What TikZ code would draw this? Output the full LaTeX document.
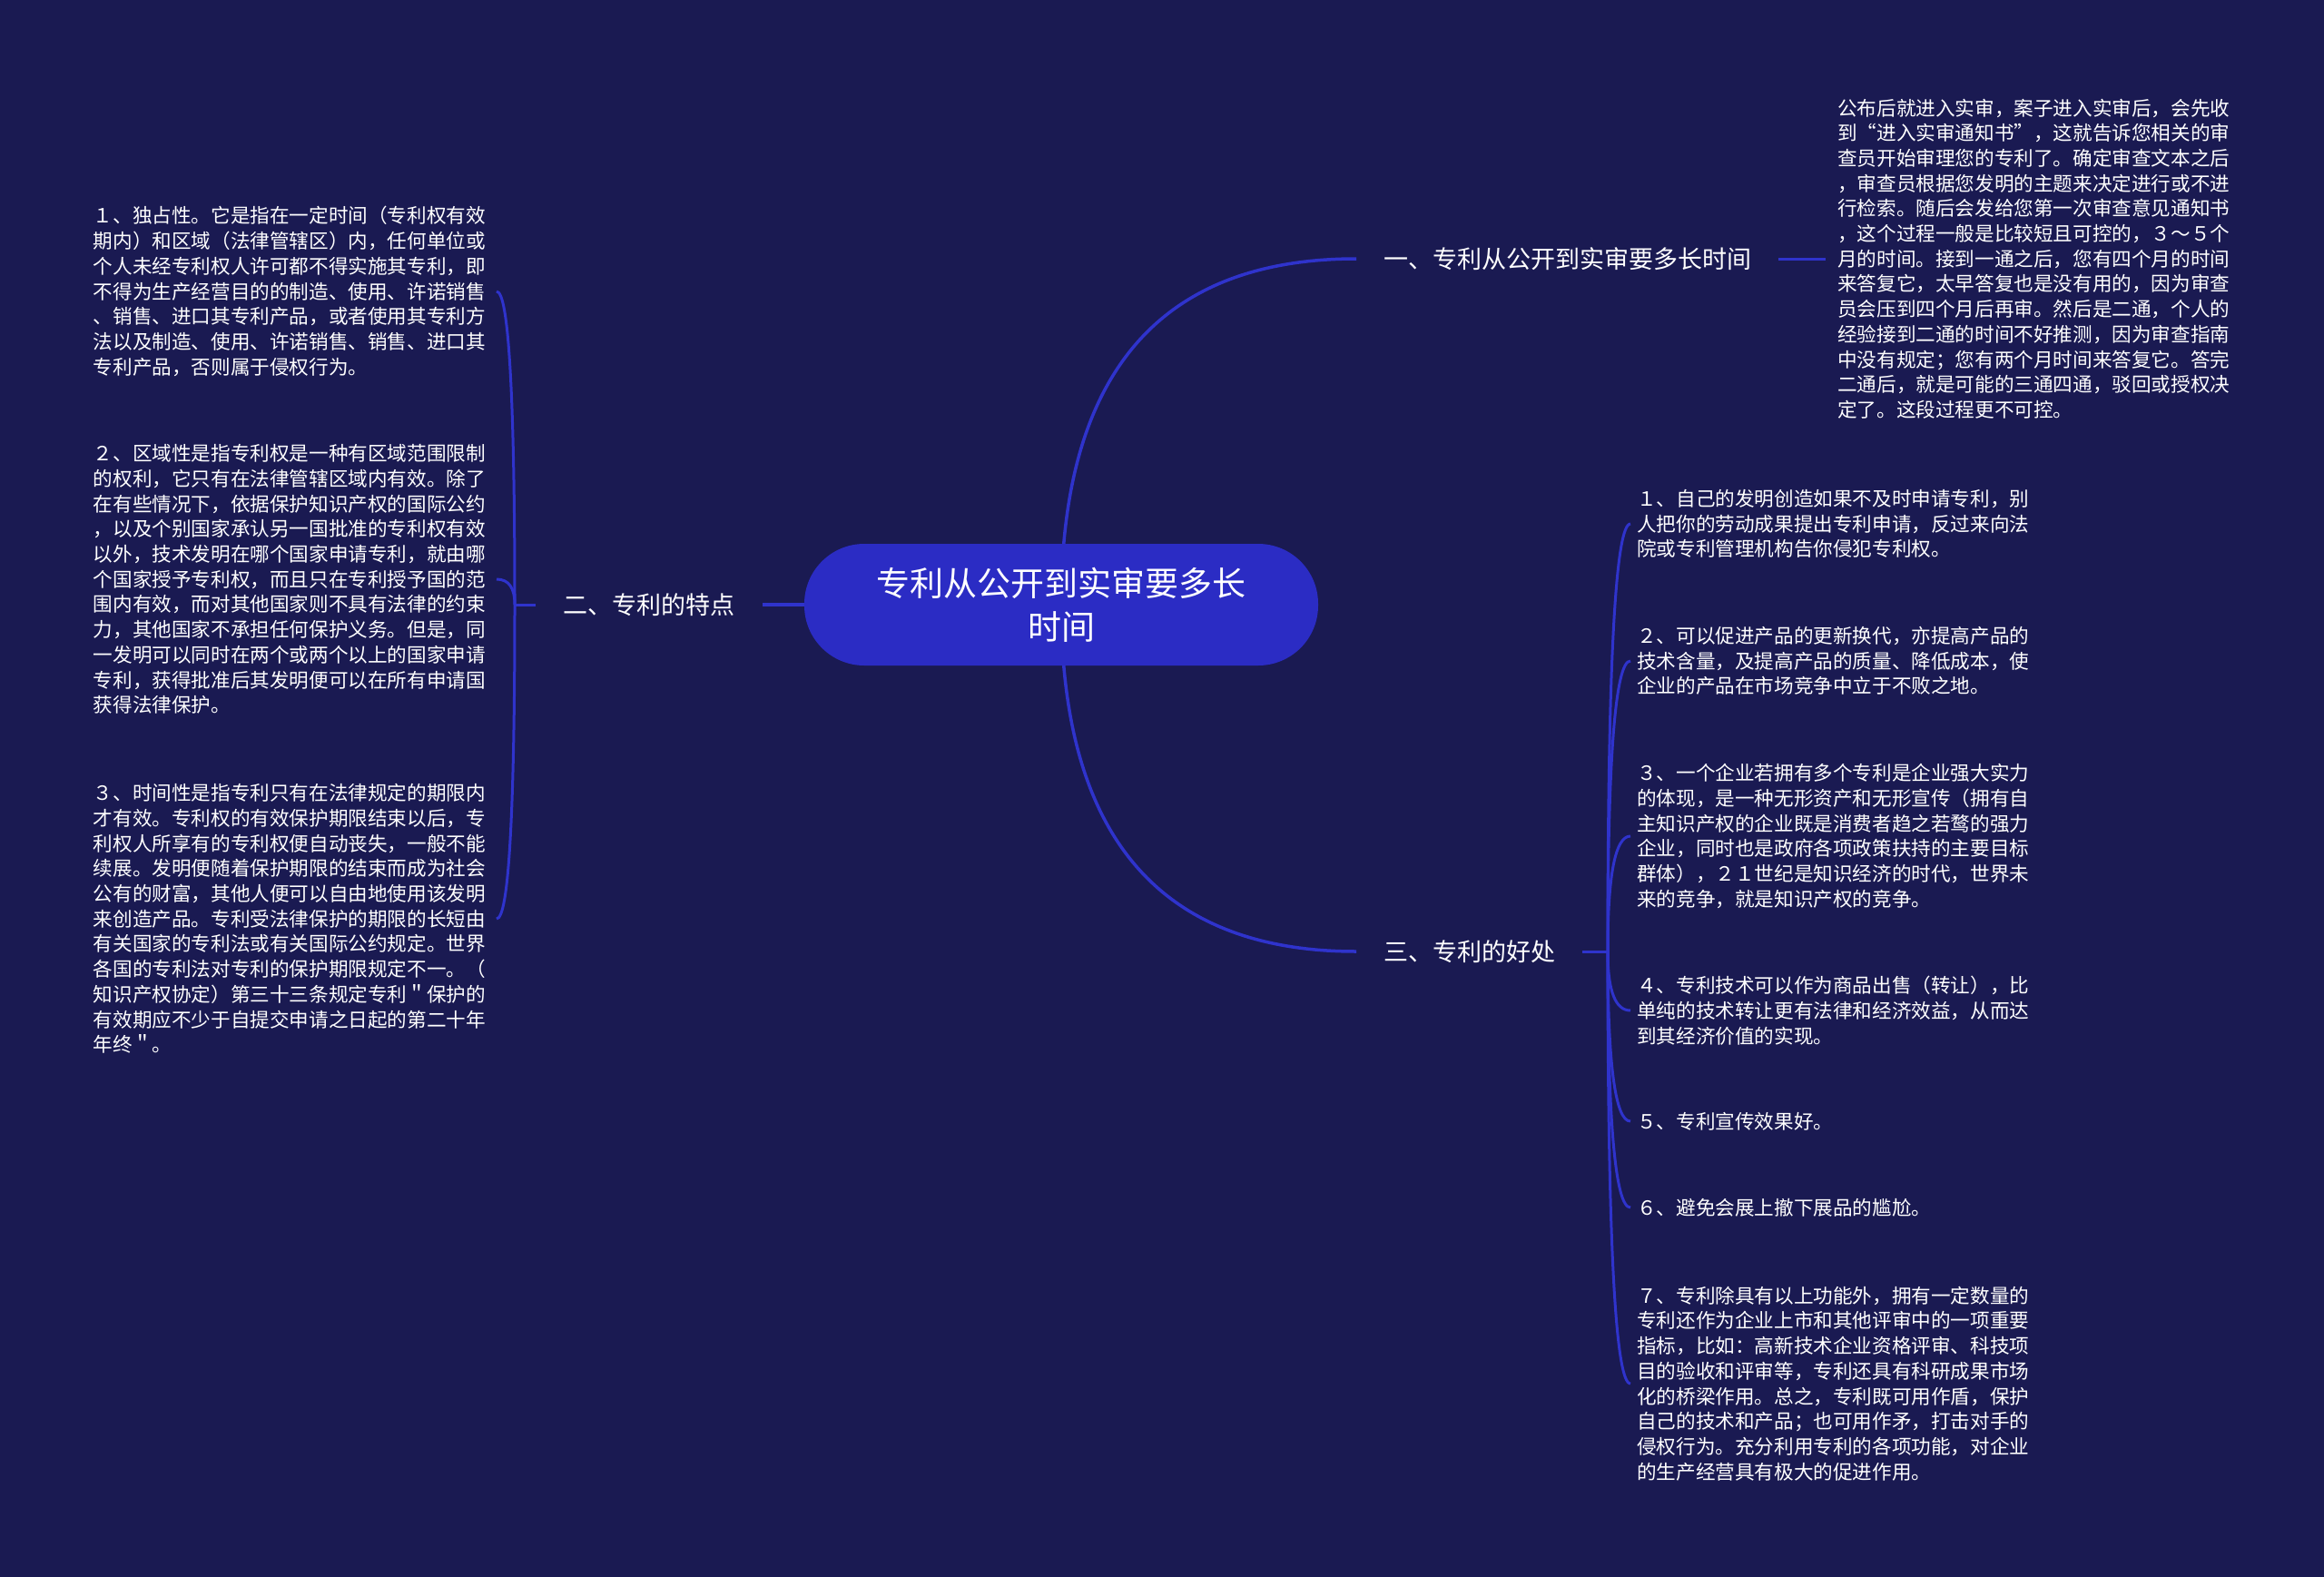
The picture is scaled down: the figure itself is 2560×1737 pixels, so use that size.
\documentclass[tikz,border=0pt]{standalone}
\usepackage{fontspec}
\setmainfont{Noto Sans CJK SC}
\usetikzlibrary{calc}
\definecolor{bgc}{HTML}{1A1A52}
\definecolor{nodec}{HTML}{2B2CC4}
\definecolor{linec}{HTML}{2F33CC}
\pgfdeclarelayer{back}
\pgfdeclarelayer{wires}
\pgfsetlayers{back,wires,main}
\tikzset{
  mainline/.style={draw=linec, line width=3.5pt},
  subline/.style={draw=linec, line width=3pt},
  rootbox/.style={fill=nodec, rounded corners=66pt, minimum width=566pt, minimum height=134pt, text=white, align=center, inner sep=0pt, font=\fontsize{37}{48}\selectfont},
  branchbox/.style={text=white, inner xsep=30pt, inner ysep=8pt, font=\fontsize{27}{34}\selectfont},
  leafbox/.style={text=white, align=left, inner ysep=4pt, font=\fontsize{21.6}{27.7}\selectfont},
}
% quadratic-looking curve from #1 to #2 with its corner at (#1 |- #2)
\newcommand{\qcurve}[3]{%
  \draw[#1] (#2) .. controls ($(#2)!0.667!(#2 |- #3)$) and ($(#3)!0.667!(#2 |- #3)$) .. (#3);}
\begin{document}
\begin{tikzpicture}[x=1pt,y=-1pt]
\begin{pgfonlayer}{back}
\fill[bgc] (0,0) rectangle (2560,1737);
\end{pgfonlayer}
\useasboundingbox (0,0) rectangle (2560,1737);

% root
\node[rootbox] (root) at (1169,666) {专利从公开到实审要多长\\时间};

% branches
\node[branchbox, anchor=west] (b1) at (1494,285) {一、专利从公开到实审要多长时间};
\node[branchbox] (b2) at (715,666) {二、专利的特点};
\node[branchbox, anchor=west] (b3) at (1494,1048) {三、专利的好处};

% branch 1 leaf
\node[leafbox, anchor=west, inner xsep=13pt] (a1) at (2011,285) {%
公布后就进入实审，案子进入实审后，会先收\\%
到“进入实审通知书”，这就告诉您相关的审\\%
查员开始审理您的专利了。确定审查文本之后\\%
，审查员根据您发明的主题来决定进行或不进\\%
行检索。随后会发给您第一次审查意见通知书\\%
，这个过程一般是比较短且可控的，３～５个\\%
月的时间。接到一通之后，您有四个月的时间\\%
来答复它，太早答复也是没有用的，因为审查\\%
员会压到四个月后再审。然后是二通，个人的\\%
经验接到二通的时间不好推测，因为审查指南\\%
中没有规定；您有两个月时间来答复它。答完\\%
二通后，就是可能的三通四通，驳回或授权决\\%
定了。这段过程更不可控。};

% branch 2 leaves
\node[leafbox, anchor=east, inner xsep=12pt] (p1) at (547,321) {%
１、独占性。它是指在一定时间（专利权有效\\%
期内）和区域（法律管辖区）内，任何单位或\\%
个人未经专利权人许可都不得实施其专利，即\\%
不得为生产经营目的的制造、使用、许诺销售\\%
、销售、进口其专利产品，或者使用其专利方\\%
法以及制造、使用、许诺销售、销售、进口其\\%
专利产品，否则属于侵权行为。};

\node[leafbox, anchor=east, inner xsep=12pt] (p2) at (547,638) {%
２、区域性是指专利权是一种有区域范围限制\\%
的权利，它只有在法律管辖区域内有效。除了\\%
在有些情况下，依据保护知识产权的国际公约\\%
，以及个别国家承认另一国批准的专利权有效\\%
以外，技术发明在哪个国家申请专利，就由哪\\%
个国家授予专利权，而且只在专利授予国的范\\%
围内有效，而对其他国家则不具有法律的约束\\%
力，其他国家不承担任何保护义务。但是，同\\%
一发明可以同时在两个或两个以上的国家申请\\%
专利，获得批准后其发明便可以在所有申请国\\%
获得法律保护。};

\node[leafbox, anchor=east, inner xsep=12pt] (p3) at (547,1012) {%
３、时间性是指专利只有在法律规定的期限内\\%
才有效。专利权的有效保护期限结束以后，专\\%
利权人所享有的专利权便自动丧失，一般不能\\%
续展。发明便随着保护期限的结束而成为社会\\%
公有的财富，其他人便可以自由地使用该发明\\%
来创造产品。专利受法律保护的期限的长短由\\%
有关国家的专利法或有关国际公约规定。世界\\%
各国的专利法对专利的保护期限规定不一。（\\%
知识产权协定）第三十三条规定专利＂保护的\\%
有效期应不少于自提交申请之日起的第二十年\\%
年终＂。};

% branch 3 leaves
\node[leafbox, anchor=west, inner xsep=7pt] (q1) at (1796,577) {%
１、自己的发明创造如果不及时申请专利，别\\%
人把你的劳动成果提出专利申请，反过来向法\\%
院或专利管理机构告你侵犯专利权。};

\node[leafbox, anchor=west, inner xsep=7pt] (q2) at (1796,728) {%
２、可以促进产品的更新换代，亦提高产品的\\%
技术含量，及提高产品的质量、降低成本，使\\%
企业的产品在市场竞争中立于不败之地。};

\node[leafbox, anchor=west, inner xsep=7pt] (q3) at (1796,921) {%
３、一个企业若拥有多个专利是企业强大实力\\%
的体现，是一种无形资产和无形宣传（拥有自\\%
主知识产权的企业既是消费者趋之若鹜的强力\\%
企业，同时也是政府各项政策扶持的主要目标\\%
群体），２１世纪是知识经济的时代，世界未\\%
来的竞争，就是知识产权的竞争。};

\node[leafbox, anchor=west, inner xsep=7pt] (q4) at (1796,1113) {%
４、专利技术可以作为商品出售（转让），比\\%
单纯的技术转让更有法律和经济效益，从而达\\%
到其经济价值的实现。};

\node[leafbox, anchor=west, inner xsep=7pt] (q5) at (1796,1235) {５、专利宣传效果好。};

\node[leafbox, anchor=west, inner xsep=7pt] (q6) at (1796,1330) {６、避免会展上撤下展品的尴尬。};

\node[leafbox, anchor=west, inner xsep=7pt] (q7) at (1796,1524) {%
７、专利除具有以上功能外，拥有一定数量的\\%
专利还作为企业上市和其他评审中的一项重要\\%
指标，比如：高新技术企业资格评审、科技项\\%
目的验收和评审等，专利还具有科研成果市场\\%
化的桥梁作用。总之，专利既可用作盾，保护\\%
自己的技术和产品；也可用作矛，打击对手的\\%
侵权行为。充分利用专利的各项功能，对企业\\%
的生产经营具有极大的促进作用。};

\coordinate (hubL) at (567,666);
\coordinate (hubR) at (1771,1048);

\begin{pgfonlayer}{wires}
\qcurve{mainline}{root.center}{b1.west}
\qcurve{mainline}{root.center}{b3.west}
\draw[mainline] (root.west) -- (b2.east);
\draw[subline] (b1.east) -- (a1.west);
\draw[subline] (b2.west) -- (hubL);
\qcurve{subline}{hubL}{p1.east}
\qcurve{subline}{hubL}{p2.east}
\qcurve{subline}{hubL}{p3.east}
\draw[subline] (b3.east) -- (hubR);
\qcurve{subline}{hubR}{q1.west}
\qcurve{subline}{hubR}{q2.west}
\qcurve{subline}{hubR}{q3.west}
\qcurve{subline}{hubR}{q4.west}
\qcurve{subline}{hubR}{q5.west}
\qcurve{subline}{hubR}{q6.west}
\qcurve{subline}{hubR}{q7.west}
\end{pgfonlayer}
\end{tikzpicture}
\end{document}
